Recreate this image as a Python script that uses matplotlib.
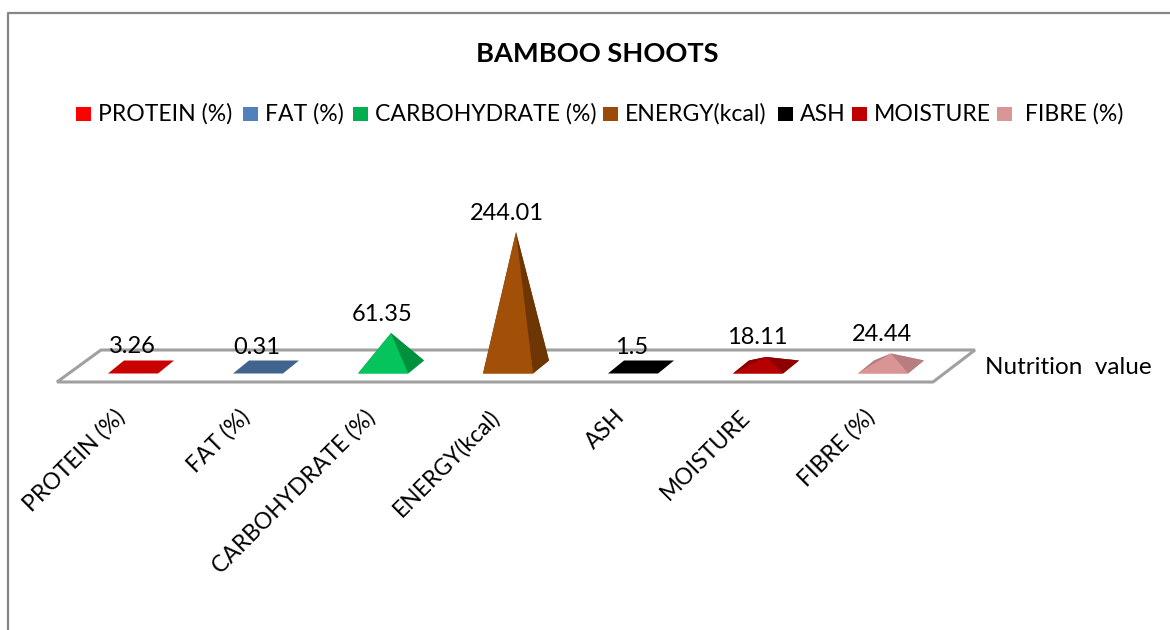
import matplotlib
matplotlib.use('Agg')
import matplotlib.pyplot as plt
from matplotlib.patches import Polygon, Rectangle

categories = ['PROTEIN (%)', 'FAT (%)', 'CARBOHYDRATE (%)', 'ENERGY(kcal)', 'ASH', 'MOISTURE', 'FIBRE (%)']
values = [3.26, 0.31, 61.35, 244.01, 1.5, 18.11, 24.44]
value_labels = ['3.26', '0.31', '61.35', '244.01', '1.5', '18.11', '24.44']
legend_labels = ['PROTEIN (%)', 'FAT (%)', 'CARBOHYDRATE (%)', 'ENERGY(kcal)', 'ASH', 'MOISTURE', ' FIBRE (%)']
front_colors = ['#C80000', '#41648F', '#05C45C', '#A24F08', '#000000', '#B50000', '#D99594']
side_colors = ['#A80000', '#375578', '#00913F', '#6E3604', '#000000', '#8C0000', '#B67E7E']
legend_colors = ['#FF0000', '#4F81BD', '#00B050', '#9C4A09', '#000000', '#C00000', '#D99694']

plt.rcParams['font.family'] = ['Lato', 'DejaVu Sans']

PX_PER_UNIT = 0.553
X0, PITCH, BASE_Y = 141, 125, 367

fig = plt.figure(figsize=(11.7, 6.3), dpi=100)
ax = fig.add_axes([0, 0, 1, 1])
# whole figure is one axes, x in category steps and y in value units
ax.set_xlim(-X0 / PITCH, (1170 - X0) / PITCH)
ax.set_ylim((BASE_Y - 630) / PX_PER_UNIT, BASE_Y / PX_PER_UNIT)
ax.axis('off')


def dx(px):
    return px / PITCH


def dy(px):
    return px / PX_PER_UNIT


def pos(px, py):
    return ((px - X0) / PITCH, (BASE_Y - py) / PX_PER_UNIT)


# outer frame
ax.plot(*zip(pos(8, 630), pos(8, 13), pos(1170, 13)), color='#868686', lw=1.6, clip_on=False)

# floor
ax.add_patch(Polygon([pos(57, 382), pos(101, 350), pos(975, 350), pos(933, 382)],
                     closed=True, fill=False, edgecolor='#A0A0A0', lw=2.2, joinstyle='miter'))

# pyramids, the very flat ones only show as a plain base
half, shear, depth = dx(25), dx(8), dy(6.5)
for i, (val, label) in enumerate(zip(values, value_labels)):
    fl = (i - half - shear, -depth)
    fr = (i + half - shear, -depth)
    br = (i + half + shear, depth)
    bl = (i - half + shear, depth)
    apex = (i, val)
    ax.add_patch(Polygon([fl, bl, br, fr], color=front_colors[i], lw=0))
    if val > 5:
        ax.add_patch(Polygon([fl, bl, apex], color=side_colors[i], lw=0))
        ax.add_patch(Polygon([bl, br, apex], color=side_colors[i], lw=0))
        ax.add_patch(Polygon([fr, br, apex], color=side_colors[i], lw=0))
        ax.add_patch(Polygon([fl, fr, apex], color=front_colors[i], lw=0))
    ax.text(i - dx(9), val + dy(19), label, ha='center', va='center', fontsize=17, color='black')

    ax.text(i - dx(27), -dy(39), categories[i], rotation=45, rotation_mode='anchor',
            ha='right', va='top', fontsize=16.5, color='black')

ax.text(*pos(985, 368), 'Nutrition  value', ha='left', va='center', fontsize=17.5, color='black')
ax.text(*pos(597, 54), 'BAMBOO SHOOTS', ha='center', va='center', fontsize=19.6, fontweight='bold', color='black')

# legend drawn by hand to keep the original spacing
swatch_x = [76, 243, 353, 603, 778, 852, 997]
for sx, lab, col in zip(swatch_x, legend_labels, legend_colors):
    ax.add_patch(Rectangle(pos(sx, 121), dx(15), dy(14), color=col, lw=0))
    ax.text(*pos(sx + 22, 121), lab, ha='left', va='baseline', fontsize=16.6, color='black')

fig.savefig('out.png', dpi=100)
